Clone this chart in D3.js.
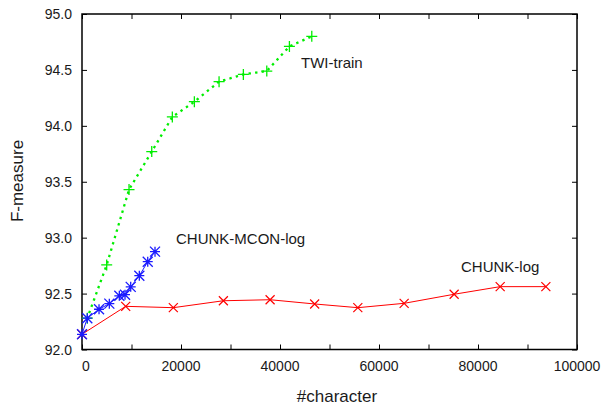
<!DOCTYPE html>
<html>
<head>
<meta http-equiv="Content-Type" content="text/html; charset=utf-8">
<script src="https://cdnjs.cloudflare.com/ajax/libs/d3/7.8.5/d3.min.js"></script>
<style>
  body { margin: 0; background: #fff; }
  text { font-family: "Liberation Sans", Arial, sans-serif; fill: #1a1a1a; }
</style>
</head>
<body>
<div id="chart"></div>
<script>
// ---- data
var chunkX = [0, 8830, 18450, 28560, 38000, 47000, 55720, 65080, 75180, 84480, 93710];
var chunkY = [92.136, 92.386, 92.374, 92.436, 92.445, 92.407, 92.374, 92.413, 92.494, 92.562, 92.562];

var mconX = [0, 1070, 3440, 5520, 7540, 8690, 9840, 11580, 13280, 14750];
var mconY = [92.136, 92.28, 92.36, 92.41, 92.48, 92.49, 92.56, 92.66, 92.785, 92.875];

var twiX = [1070, 4990, 9500, 14090, 18250, 22700, 27690, 32600, 37330, 41900, 46420];
var twiY = [92.28, 92.756, 93.43, 93.77, 94.08, 94.216, 94.395, 94.46, 94.49, 94.71, 94.80];

var xTicks = [0, 20000, 40000, 60000, 80000, 100000];
var xMinorTicks = [10000, 30000, 50000, 70000, 90000];
var yTicks = [92.0, 92.5, 93.0, 93.5, 94.0, 94.5, 95.0];

var width = 601, height = 405;
var padL = 82, padR = 577, padT = 14, padB = 349.5;

var svg = d3.select("#chart").append("svg")
  .attr("width", width)
  .attr("height", height);

var x = d3.scaleLinear().domain([0, 100000]).range([padL, padR]);
var y = d3.scaleLinear().domain([92, 95]).range([padB, padT]);

// ---- axes (gnuplot style: ticks inward, mirrored)
var tickLen = 5;
var allX = xTicks.concat(xMinorTicks);

svg.append("g").attr("transform", "translate(0," + padB + ")")
  .call(d3.axisTop(x).tickValues(allX).tickSize(tickLen).tickFormat(""))
  .call(function(g){ g.select(".domain").remove(); });
svg.append("g").attr("transform", "translate(0," + padT + ")")
  .call(d3.axisBottom(x).tickValues(allX).tickSize(tickLen).tickFormat(""))
  .call(function(g){ g.select(".domain").remove(); });
svg.append("g").attr("transform", "translate(" + padL + ",0)")
  .call(d3.axisRight(y).tickValues(yTicks).tickSize(tickLen).tickFormat(""))
  .call(function(g){ g.select(".domain").remove(); });
svg.append("g").attr("transform", "translate(" + padR + ",0)")
  .call(d3.axisLeft(y).tickValues(yTicks).tickSize(tickLen).tickFormat(""))
  .call(function(g){ g.select(".domain").remove(); });

svg.selectAll(".tick line").attr("stroke", "#000").attr("stroke-width", 1);

svg.append("rect")
  .attr("x", padL).attr("y", padT)
  .attr("width", padR - padL).attr("height", padB - padT)
  .attr("fill", "none").attr("stroke", "#000").attr("stroke-width", 1.5);

// tick labels
svg.selectAll(".xlab").data(xTicks).enter().append("text")
  .attr("x", function(d){ return d === 0 ? x(d) + 4 : x(d); })
  .attr("y", 371)
  .attr("text-anchor", "middle")
  .style("font-size", "14px")
  .text(function(d){ return d; });

svg.selectAll(".ylab").data(yTicks).enter().append("text")
  .attr("x", 72)
  .attr("y", function(d){ return y(d) + 5; })
  .attr("text-anchor", "end")
  .style("font-size", "14px")
  .text(function(d){ return d.toFixed(1); });

svg.append("text")
  .attr("x", 337).attr("y", 402)
  .attr("text-anchor", "middle")
  .style("font-size", "17px")
  .text("#character");

svg.append("text")
  .attr("transform", "translate(23,181) rotate(-90)")
  .attr("text-anchor", "middle")
  .style("font-size", "17px")
  .text("F-measure");

// ---- series
function pts(xs, ys){ return xs.map(function(v, i){ return [v, ys[i]]; }); }
var line = d3.line().x(function(d){ return x(d[0]); }).y(function(d){ return y(d[1]); });

var twi = pts(twiX, twiY), mcon = pts(mconX, mconY), chunk = pts(chunkX, chunkY);

// TWI-train: dotted green with +
svg.append("path").datum(twi)
  .attr("d", line)
  .attr("fill", "none")
  .attr("stroke", "#00ee00")
  .attr("stroke-width", 2.3)
  .attr("stroke-linecap", "square")
  .attr("stroke-dasharray", "0.1,6.5");
svg.selectAll(".plus").data(twi).enter().append("path")
  .attr("d", function(d){
    var cx = x(d[0]), cy = y(d[1]), s = 5.5;
    return "M" + (cx - s) + "," + cy + "H" + (cx + s) + "M" + cx + "," + (cy - s) + "V" + (cy + s);
  })
  .attr("stroke", "#00ee00").attr("stroke-width", 1.3).attr("fill", "none");

// CHUNK-log: red with x
svg.append("path").datum(chunk)
  .attr("d", line)
  .attr("fill", "none")
  .attr("stroke", "#ff0000")
  .attr("stroke-width", 1);
svg.selectAll(".cross").data(chunk).enter().append("path")
  .attr("d", function(d){
    var cx = x(d[0]), cy = y(d[1]), s = 4.5;
    return "M" + (cx - s) + "," + (cy - s) + "L" + (cx + s) + "," + (cy + s) +
           "M" + (cx - s) + "," + (cy + s) + "L" + (cx + s) + "," + (cy - s);
  })
  .attr("stroke", "#ff0000").attr("stroke-width", 1.2).attr("fill", "none");

// CHUNK-MCON-log: blue with asterisk
svg.append("path").datum(mcon)
  .attr("d", line)
  .attr("fill", "none")
  .attr("stroke", "#1a1aff")
  .attr("stroke-width", 1);
svg.selectAll(".star").data(mcon).enter().append("path")
  .attr("d", function(d){
    var cx = x(d[0]), cy = y(d[1]), s = 5;
    return "M" + (cx - s) + "," + cy + "H" + (cx + s) +
           "M" + cx + "," + (cy - s) + "V" + (cy + s) +
           "M" + (cx - s) + "," + (cy - s) + "L" + (cx + s) + "," + (cy + s) +
           "M" + (cx - s) + "," + (cy + s) + "L" + (cx + s) + "," + (cy - s);
  })
  .attr("stroke", "#1a1aff").attr("stroke-width", 1.3).attr("fill", "none");

// series labels
svg.append("text").attr("x", 301).attr("y", 68).style("font-size", "15px").text("TWI-train");
svg.append("text").attr("x", 176).attr("y", 244).style("font-size", "15px").text("CHUNK-MCON-log");
svg.append("text").attr("x", 461).attr("y", 272).style("font-size", "15px").text("CHUNK-log");
</script>
</body>
</html>
